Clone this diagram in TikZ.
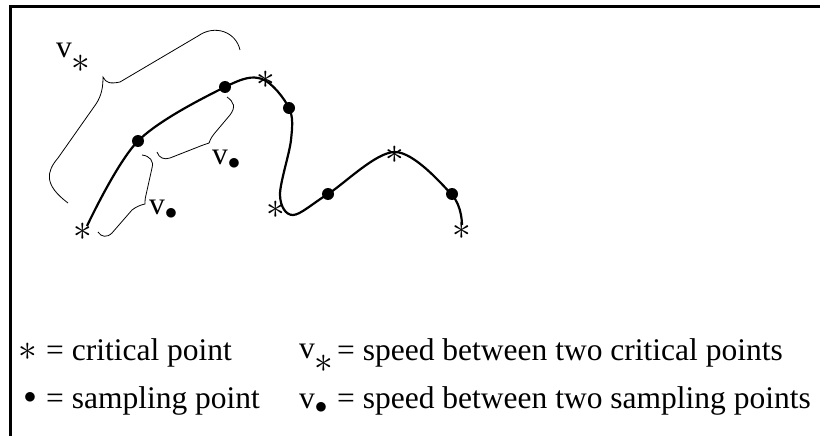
\documentclass[tikz,border=0pt]{standalone}
\usepackage{graphicx}
\usepackage{fontspec}
\setmainfont{Liberation Serif}
\usetikzlibrary{positioning}
\tikzset{
	bigtext/.style={font=\fontsize{31.5}{36}\selectfont}
}
\newcommand{\critmark}{\scalebox{1.5}{$\ast$}}
\newcommand{\astsub}{\raisebox{-1.0ex}{\critmark}}
\newcommand{\dotsub}{\raisebox{-0.35ex}{$\bullet$}}

\begin{document}
\begin{tikzpicture}[x=1pt,y=-1pt]

      \tikzset{
        critnode/.style={
            bigtext,
            inner sep=0pt
          },
        samplenode/.style={
            shape=circle,
            fill=black,
            minimum size=12pt,
            inner sep=0pt
          },
        bracepath/.style={
            line width=0.8pt
          },
        labeltext/.style={
            bigtext,
            inner sep=0pt,
            anchor=base west
          }
      }

      \useasboundingbox (0,0) rectangle (820,436);

      % frame
      \draw[line width=3pt] (10,436) -- (10,7) -- (820,7);

      % the curve
      \draw[line width=2.2pt] plot[smooth, tension=0.55] coordinates {
        (87,226) (138,141) (225,87) (262,79) (289,108) (291,140)
        (280,195) (293,215) (328,194) (395,152) (452,195) (462,225)};

      % critical points
      \node[critnode] (c1) at (83,232) {\critmark};
      \node[critnode] (c2) at (266,80) {\critmark};
      \node[critnode] (c3) at (276,210) {\critmark};
      \node[critnode] (c4) at (395,155) {\critmark};
      \node[critnode] (c5) at (462,231) {\critmark};

      % sampling points
      \node[samplenode] (s1) at (138,141) {};
      \node[samplenode] (s2) at (225,87) {};
      \node[samplenode] (s3) at (289,108) {};
      \node[samplenode] (s4) at (328,194) {};
      \node[samplenode] (s5) at (452,194) {};

      % braces
      \draw[bracepath] (68,203) .. controls (44,185) and (46,172) .. (58,158)
        -- (96,104) .. controls (102,95) and (103,86) .. (103,77)
        .. controls (106,83) and (110,84) .. (120,82)
        -- (198,36) .. controls (215,24) and (236,32) .. (240,50);
      \draw[bracepath] (227,97) .. controls (234,102) and (236,107) .. (230,115)
        -- (214,134) .. controls (211,138) and (210,140) .. (209,143)
        .. controls (206,144) and (203,145) .. (198,147)
        -- (170,158) .. controls (164,160) and (159,158) .. (157,152);
      \draw[bracepath] (142,155) .. controls (150,156) and (154,161) .. (152,168)
        -- (146,195) .. controls (145,199) and (145,201) .. (145,204)
        .. controls (140,205) and (136,207) .. (132,210)
        -- (112,233) .. controls (107,238) and (101,237) .. (98,232);

      % speed labels
      \node[labeltext] (vcrit) at (56,58) {v\astsub};
      \node[labeltext] (vsamp1) at (212,164) {v\dotsub};
      \node[labeltext] (vsamp2) at (149,214) {v\dotsub};

      % legend
      \node[critnode] (k1) at (28,352) {\critmark};
      \node[labeltext] (t1) at (46,360) {= critical point};
      \node[labeltext] (k2) at (299,358) {v\astsub};
      \node[labeltext] (t2) at (337,360) {= speed between two critical points};
      \node[labeltext, anchor=center] (k3) at (30,398) {$\bullet$};
      \node[labeltext] (t3) at (46,408) {= sampling point};
      \node[labeltext] (k4) at (299,408) {v\dotsub};
      \node[labeltext] (t4) at (337,408) {= speed between two sampling points};

    \end{tikzpicture}
\end{document}
